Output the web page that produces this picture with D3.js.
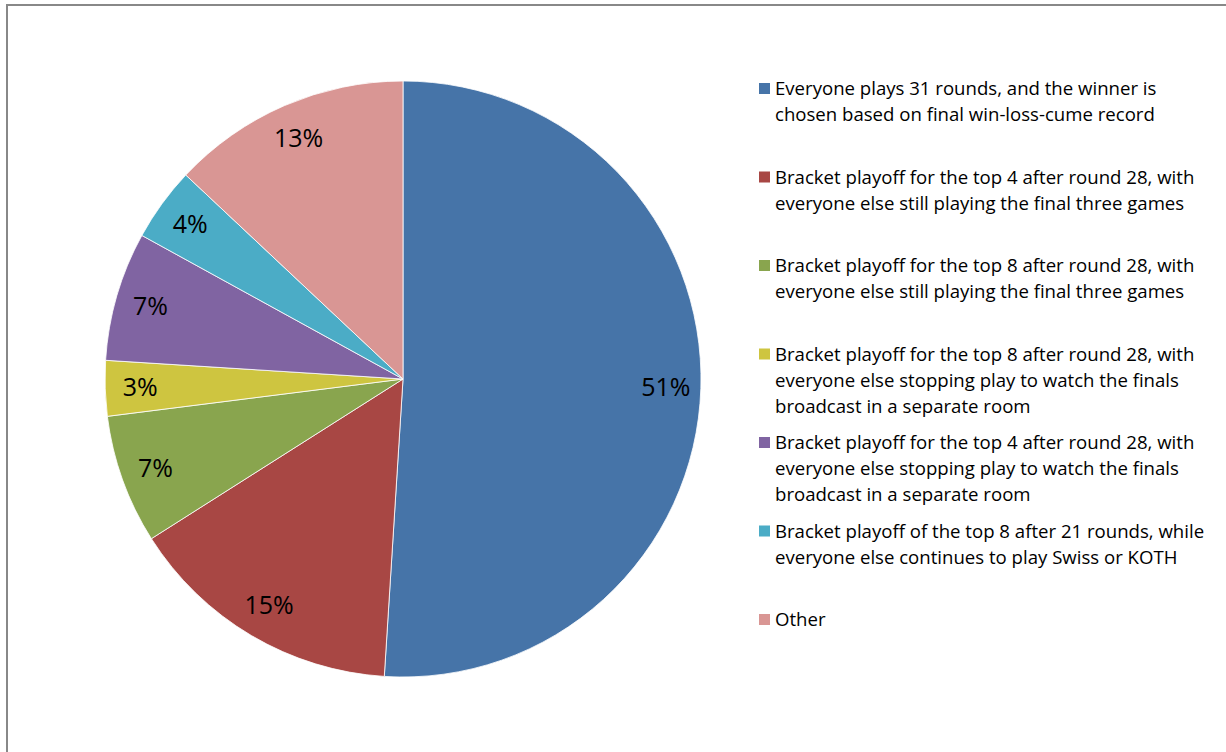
<!DOCTYPE html>
<html>
<head>
<meta charset="utf-8">
<script src="https://cdn.jsdelivr.net/npm/d3@7"></script>
<style>
  html, body { margin: 0; padding: 0; background: #fff; overflow: hidden; }
  text { font-family: "Open Sans", Lato, sans-serif; }
</style>
</head>
<body>
<div id="container"></div>
<script>
// survey answers, one slice per option (percent of answers)
const categories = [
  "Everyone plays 31 rounds, and the winner is\nchosen based on final win-loss-cume record",
  "Bracket playoff for the top 4 after round 28, with\neveryone else still playing the final three games",
  "Bracket playoff for the top 8 after round 28, with\neveryone else still playing the final three games",
  "Bracket playoff for the top 8 after round 28, with\neveryone else stopping play to watch the finals\nbroadcast in a separate room",
  "Bracket playoff for the top 4 after round 28, with\neveryone else stopping play to watch the finals\nbroadcast in a separate room",
  "Bracket playoff of the top 8 after 21 rounds, while\neveryone else continues to play Swiss or KOTH",
  "Other"
];
const values = [51, 15, 7, 3, 7, 4, 13];
const colors = ["#4674A8", "#A84744", "#89A54E", "#CEC540", "#8064A2", "#4BACC6", "#D99694"];

const w = 1226, h = 752;
const cx = 403, cy = 379, radius = 298;

const svg = d3.select("#container").append("svg").attr("width", w).attr("height", h);

// chart frame (right and bottom edges fall outside the window)
svg.append("rect")
  .attr("x", 7).attr("y", 5)
  .attr("width", w + 40).attr("height", h + 40)
  .attr("fill", "none").attr("stroke", "#888").attr("stroke-width", 2);

const total = d3.sum(values);
const pie = d3.pie().sort(null).value(d => d)(values);
const arc = d3.arc().innerRadius(0).outerRadius(radius);
const labelArc = d3.arc().innerRadius(263).outerRadius(263);

const graph = svg.append("g").attr("transform", `translate(${cx}, ${cy})`);

graph.selectAll("path.slice")
  .data(pie)
  .enter()
  .append("path")
    .attr("class", "slice")
    .attr("d", arc)
    .attr("fill", (d, i) => colors[i])
    .attr("stroke", "#fff")
    .attr("stroke-width", 0.8);

graph.selectAll("text.pct")
  .data(pie)
  .enter()
  .append("text")
    .attr("class", "pct")
    .attr("transform", d => `translate(${labelArc.centroid(d)})`)
    .attr("text-anchor", "middle")
    .attr("dy", "0.36em")
    .attr("font-size", 25)
    .attr("fill", "#000")
    .text(d => Math.round(d.data / total * 100) + "%");

// legend
const legendY = d3.scalePoint().domain(d3.range(categories.length)).range([95, 626]);
const legend = svg.append("g").attr("id", "legend");

const items = legend.selectAll("g")
  .data(categories)
  .enter()
  .append("g")
    .attr("transform", (d, i) => `translate(759, ${legendY(i)})`);

items.append("rect")
  .attr("x", 0).attr("y", -12)
  .attr("width", 11).attr("height", 11)
  .attr("fill", (d, i) => colors[i]);

items.append("text")
  .attr("x", 16)
  .attr("font-size", 18.6)
  .attr("fill", "#000")
  .selectAll("tspan")
  .data(d => d.split("\n"))
  .enter()
  .append("tspan")
    .attr("x", 16)
    .attr("dy", (d, i) => i === 0 ? 0 : 26)
    .text(d => d);
</script>
</body>
</html>
